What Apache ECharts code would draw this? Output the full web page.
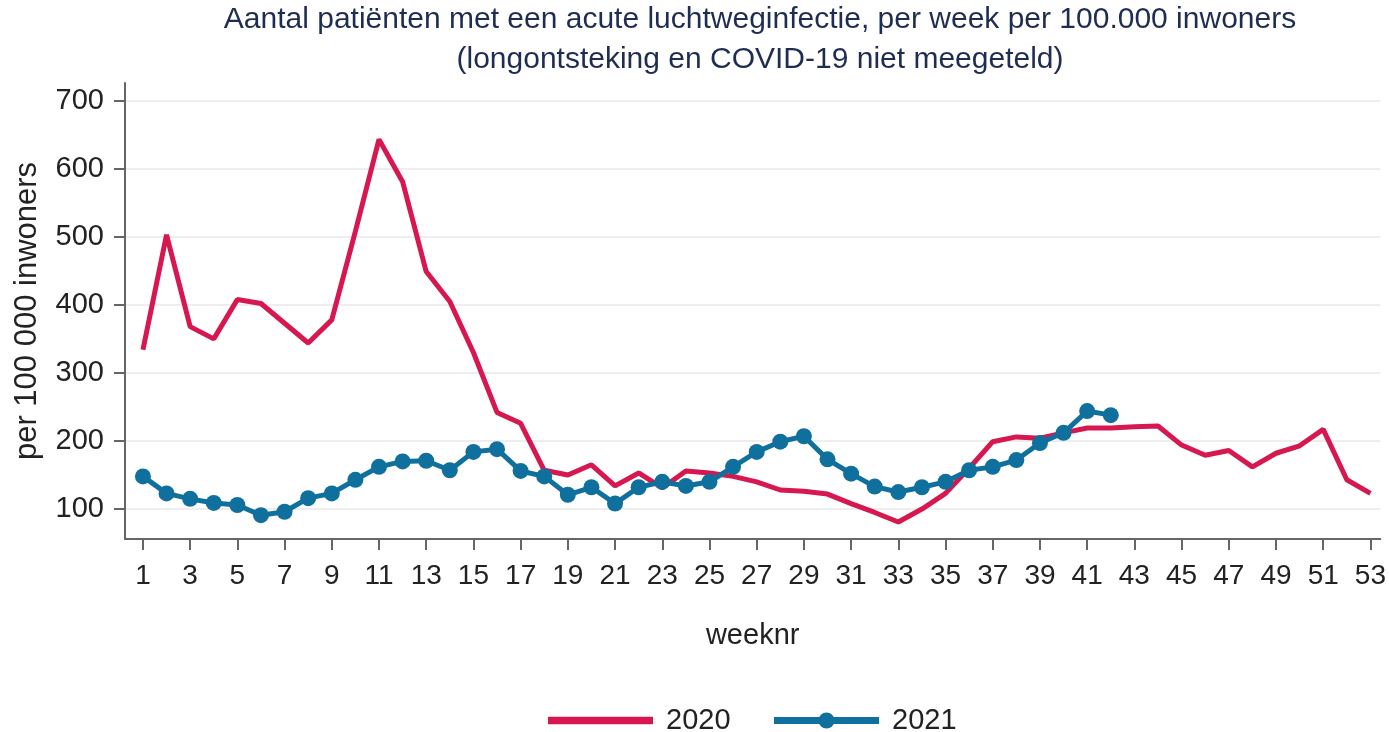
<!DOCTYPE html>
<html>
<head>
<meta charset="utf-8">
<script src="https://cdn.jsdelivr.net/npm/echarts@6/dist/echarts.min.js"></script>
<style>
html, body { margin: 0; padding: 0; background: #fff; }
#chart { width: 1389px; height: 732px; }
</style>
</head>
<body>
<div id="chart"></div>
<script>
// weeks 1..53, values per 100 000 inwoners
var weeks = [];
for (var i = 1; i <= 53; i++) weeks.push(i);
var values2020 = [334, 503, 368, 350, 408, 402, 373, 344, 378, 508, 643, 581, 449, 405, 330,
    242, 226, 157, 150, 165, 134, 153, 131, 156, 153, 148, 140, 128, 126, 122,
    108, 95, 81, 100, 123, 160, 199, 206, 204, 212, 219, 219, 221, 222, 194,
    179, 186, 162, 182, 193, 217, 143, 123];
var values2021 = [148, 123, 115, 109, 106, 91, 96, 116, 123, 143, 162, 170, 171, 157, 184,
    188, 156, 148, 121, 132, 108, 132, 140, 134, 140, 162, 184, 199, 207, 173,
    152, 133, 125, 132, 140, 157, 162, 172, 197, 212, 244, 238];
var xTicks = [];
for (var k = 1; k <= 53; k += 2) xTicks.push(k);
var yTicks = [100, 200, 300, 400, 500, 600, 700];

function pairs(vals) {
    return vals.map(function (v, i) { return [weeks[i], v]; });
}

var option = {
    animation: false,
    backgroundColor: '#fff',
    textStyle: { fontFamily: 'Liberation Sans, Arial, sans-serif' },
    title: {
        text: 'Aantal patiënten met een acute luchtweginfectie, per week per 100.000 inwoners\n(longontsteking en COVID-19 niet meegeteld)',
        left: 755,
        textAlign: 'center',
        top: 0,
        padding: [0, 5],
        textStyle: {
            color: '#1f2d52',
            fontSize: 30,
            fontWeight: 'normal',
            lineHeight: 40
        }
    },
    legend: {
        top: 701,
        left: 543,
        itemWidth: 105,
        itemHeight: 20,
        itemGap: 40,
        textStyle: { fontSize: 29, color: '#222', padding: [0, 0, 0, 8] },
        data: [
            { name: '2020', icon: 'path://M0,0 L100,0 L100,7 L0,7 Z' },
            { name: '2021', lineStyle: { width: 7 } }
        ]
    },
    grid: { left: 125, right: 4, top: 83, bottom: 193 },
    xAxis: {
        type: 'value',
        min: 0.24,
        max: 53.42,
        name: 'weeknr',
        nameLocation: 'middle',
        nameGap: 82,
        nameTextStyle: { fontSize: 29, color: '#222' },
        axisLine: { lineStyle: { color: '#666', width: 2 } },
        axisTick: { customValues: xTicks, length: 11, lineStyle: { color: '#666', width: 2 } },
        axisLabel: { customValues: xTicks, fontSize: 28, color: '#222', margin: 23 },
        splitLine: { show: false }
    },
    yAxis: {
        type: 'value',
        min: 56,
        max: 726,
        name: 'per 100 000 inwoners',
        nameLocation: 'middle',
        nameGap: 82,
        nameTextStyle: { fontSize: 31, color: '#222' },
        axisLine: { show: true, lineStyle: { color: '#666', width: 2 } },
        axisTick: { show: true, customValues: yTicks, length: 11, lineStyle: { color: '#666', width: 2 } },
        axisLabel: { customValues: yTicks, fontSize: 29, color: '#222', margin: 21 },
        splitLine: { show: true, lineStyle: { color: '#eeeeee', width: 2 } }
    },
    series: [
        {
            name: '2020',
            type: 'line',
            data: pairs(values2020),
            symbol: 'none',
            color: '#d7174f',
            lineStyle: { width: 5, color: '#d7174f' }
        },
        {
            name: '2021',
            type: 'line',
            data: pairs(values2021),
            symbol: 'circle',
            symbolSize: 16,
            color: '#10709d',
            itemStyle: { color: '#10709d' },
            lineStyle: { width: 5, color: '#10709d' }
        }
    ]
};

var myChart = echarts.init(document.getElementById('chart'));
myChart.setOption(option);
</script>
</body>
</html>
